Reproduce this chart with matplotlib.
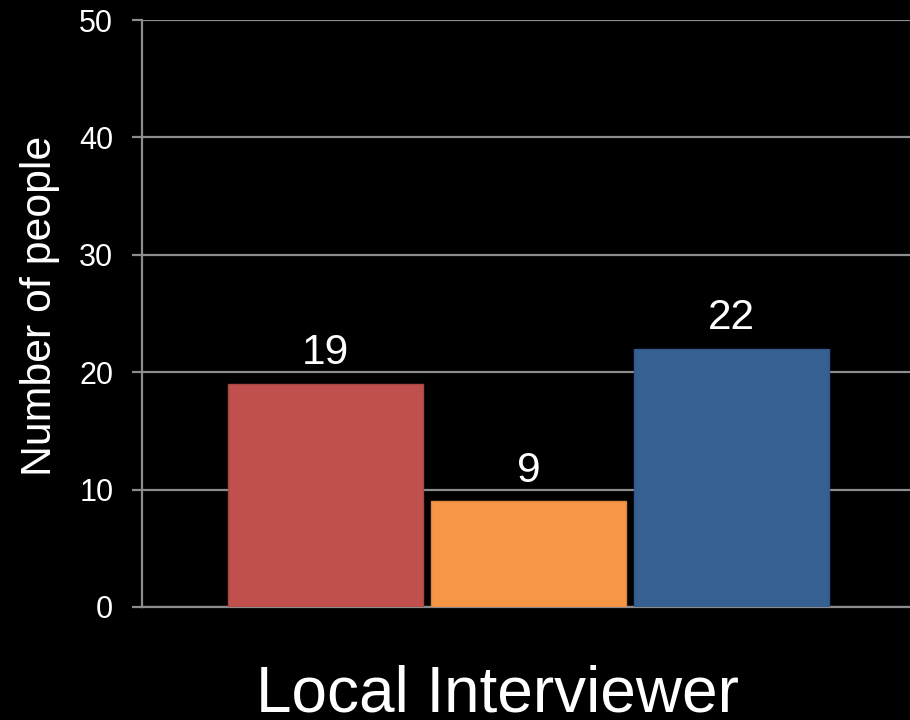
import matplotlib
matplotlib.use("Agg")
import matplotlib.pyplot as plt

categories = ["A", "B", "C"]
values = [19, 9, 22]
colors = ["#C0504D", "#F79646", "#376092"]
edge_colors = ["#A94744", "#DD8640", "#30568A"]
yticks = [0, 10, 20, 30, 40, 50]
title = "Local Interviewer"
ylabel = "Number of people"

plt.rcParams['font.family'] = ['Liberation Sans', 'DejaVu Sans']

fig = plt.figure(figsize=(9.1, 7.2), dpi=100, facecolor="black")
ax = fig.add_axes([142/910, 113/720, 1 - 142/910, (607-20)/720])
ax.set_facecolor("black")

x = list(range(len(categories)))
ax.set_xlim(-0.904, 2.877)
ax.set_ylim(0, 50)
ax.set_yticks(yticks)
ax.yaxis.grid(True, color="#8C8C8C", linewidth=1.6, zorder=0)
ax.set_axisbelow(True)
bars = ax.bar(x, values, width=0.96, color=colors, edgecolor=edge_colors, linewidth=1.0, zorder=3)

for xi, v in zip(x, values):
    ax.annotate(str(v), (xi, v), xytext=(0, 14.2), textcoords="offset points",
                ha="center", va="baseline", color="white", fontsize=30.5)

for s in ["top", "right"]:
    ax.spines[s].set_visible(False)
ax.spines["left"].set_color("#8C8C8C")
ax.spines["left"].set_linewidth(1.6)
ax.spines["bottom"].set_color("#8C8C8C")
ax.spines["bottom"].set_linewidth(1.6)
ax.set_xticks([])
ax.tick_params(axis="y", colors="#8C8C8C", length=7.2, width=1.6, pad=13.5,
               labelcolor="white", labelsize=22)

fig.text(51/910, (720-305.5)/720, ylabel, rotation=90, rotation_mode="anchor",
         ha="center", va="baseline", color="white", fontsize=30.8)
fig.text(497/910, 8/720, title, ha="center", va="baseline", color="white", fontsize=46)

fig.savefig("out.png", dpi=100, facecolor="black")
